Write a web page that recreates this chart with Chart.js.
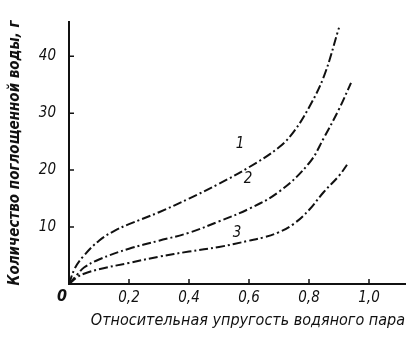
<!DOCTYPE html>
<html>
<head>
<meta charset="utf-8">
<script src="https://cdn.jsdelivr.net/npm/chart.js@4"></script>
<style>
  html, body { margin: 0; padding: 0; background: #fff; }
  #wrap { width: 409px; height: 338px; }
</style>
</head>
<body>
<div id="wrap"><canvas id="myChart"></canvas></div>
<script>
// x: relative vapour pressure, y: absorbed water, g
const xs1 = [0, 0.02, 0.05, 0.1, 0.15, 0.2, 0.3, 0.4, 0.5, 0.6, 0.7, 0.75, 0.8, 0.85, 0.9];
const ys1 = [0, 2.8, 5.0, 7.6, 9.3, 10.5, 12.6, 15.0, 17.6, 20.5, 24.0, 26.8, 31.0, 36.5, 45.0];

const xs2 = [0, 0.03, 0.05, 0.1, 0.2, 0.3, 0.4, 0.5, 0.6, 0.7, 0.8, 0.85, 0.9, 0.94];
const ys2 = [0, 1.8, 2.9, 4.3, 6.2, 7.6, 9.0, 11.0, 13.2, 16.2, 21.2, 25.7, 30.7, 35.3];

const xs3 = [0, 0.03, 0.05, 0.1, 0.2, 0.3, 0.4, 0.5, 0.6, 0.65, 0.7, 0.75, 0.8, 0.85, 0.9, 0.93];
const ys3 = [0, 1.3, 1.8, 2.6, 3.7, 4.8, 5.7, 6.5, 7.6, 8.2, 9.1, 10.6, 13.0, 16.2, 19.0, 21.2];

const curveNames = ['1', '2', '3'];
// where each curve number sits (data units)
const nameX = [0.57, 0.597, 0.56];
const nameY = [24.5, 18.5, 9.0];

const xTickValues = [0, 0.2, 0.4, 0.6, 0.8, 1.0];
const xTickLabels = ['0', '0,2', '0,4', '0,6', '0,8', '1,0'];
const yTickValues = [10, 20, 30, 40];
const yTickLabels = ['10', '20', '30', '40'];

const ink = '#111';
const fontFamily = '"DejaVu Sans Condensed", "DejaVu Sans", sans-serif';

const toPoints = (xs, ys) => xs.map((x, i) => ({ x: x, y: ys[i] }));

const lineStyle = {
    borderColor: ink,
    borderWidth: 2,
    borderDash: [9, 3, 2, 3],
    pointRadius: 0,
    fill: false,
    tension: 0.4
};

// inward tick marks, curve numbers and the origin "0"
const decorations = {
    id: 'decorations',
    afterDraw(chart) {
        const c = chart.ctx;
        const x = chart.scales.x;
        const y = chart.scales.y;
        c.save();
        c.strokeStyle = ink;
        c.lineWidth = 1.5;
        c.beginPath();
        xTickValues.forEach(v => {
            if (v === 0) return;
            const px = x.getPixelForValue(v);
            c.moveTo(px, y.bottom);
            c.lineTo(px, y.bottom - 5);
        });
        yTickValues.forEach(v => {
            const py = y.getPixelForValue(v);
            c.moveTo(x.left, py);
            c.lineTo(x.left + 5, py);
        });
        c.stroke();

        c.fillStyle = ink;
        c.textAlign = 'center';
        c.textBaseline = 'middle';
        c.font = 'italic 15px ' + fontFamily;
        curveNames.forEach((n, i) => {
            c.fillText(n, x.getPixelForValue(nameX[i]), y.getPixelForValue(nameY[i]));
        });

        c.font = 'bold italic 16px ' + fontFamily;
        c.fillText(xTickLabels[0], x.getPixelForValue(0) - 7, y.bottom + 13);
        c.restore();
    }
};

new Chart(document.getElementById('myChart'), {
    type: 'line',
    data: {
        datasets: [
            Object.assign({ label: curveNames[0], data: toPoints(xs1, ys1) }, lineStyle),
            Object.assign({ label: curveNames[1], data: toPoints(xs2, ys2) }, lineStyle),
            Object.assign({ label: curveNames[2], data: toPoints(xs3, ys3) }, lineStyle)
        ]
    },
    options: {
        responsive: true,
        maintainAspectRatio: false,
        animation: false,
        layout: { padding: { left: 0, top: 8, right: 4, bottom: 0 } },
        plugins: {
            legend: { display: false },
            tooltip: { enabled: false }
        },
        scales: {
            x: {
                type: 'linear',
                min: 0,
                max: 1.12,
                afterFit: s => { s.height = 54; },
                afterBuildTicks: s => { s.ticks = xTickValues.map(v => ({ value: v })); },
                grid: { drawOnChartArea: false, drawTicks: false },
                border: { display: true, color: ink, width: 2 },
                ticks: {
                    padding: 5,
                    color: ink,
                    font: { family: fontFamily, size: 15, style: 'italic' },
                    callback: v => {
                        const i = xTickValues.indexOf(v);
                        return i > 0 ? xTickLabels[i] : '';
                    }
                },
                title: {
                    display: true,
                    align: 'end',
                    text: 'Относительная упругость водяного пара',
                    color: ink,
                    padding: { top: 0, bottom: 8 },
                    font: { family: fontFamily, size: 16, style: 'italic' }
                }
            },
            y: {
                type: 'linear',
                min: 0,
                max: 46,
                afterFit: s => { s.width = 69; },
                afterBuildTicks: s => { s.ticks = yTickValues.map(v => ({ value: v })); },
                grid: { drawOnChartArea: false, drawTicks: false },
                border: { display: true, color: ink, width: 2 },
                ticks: {
                    padding: 13,
                    color: ink,
                    font: { family: fontFamily, size: 15, style: 'italic' },
                    callback: v => yTickLabels[yTickValues.indexOf(v)] || ''
                },
                title: {
                    display: true,
                    text: 'Количество поглощенной воды, г',
                    color: ink,
                    padding: { top: 6, bottom: 0 },
                    font: { family: fontFamily, size: 15, style: 'italic', weight: 'bold' }
                }
            }
        }
    },
    plugins: [decorations]
});
</script>
</body>
</html>
